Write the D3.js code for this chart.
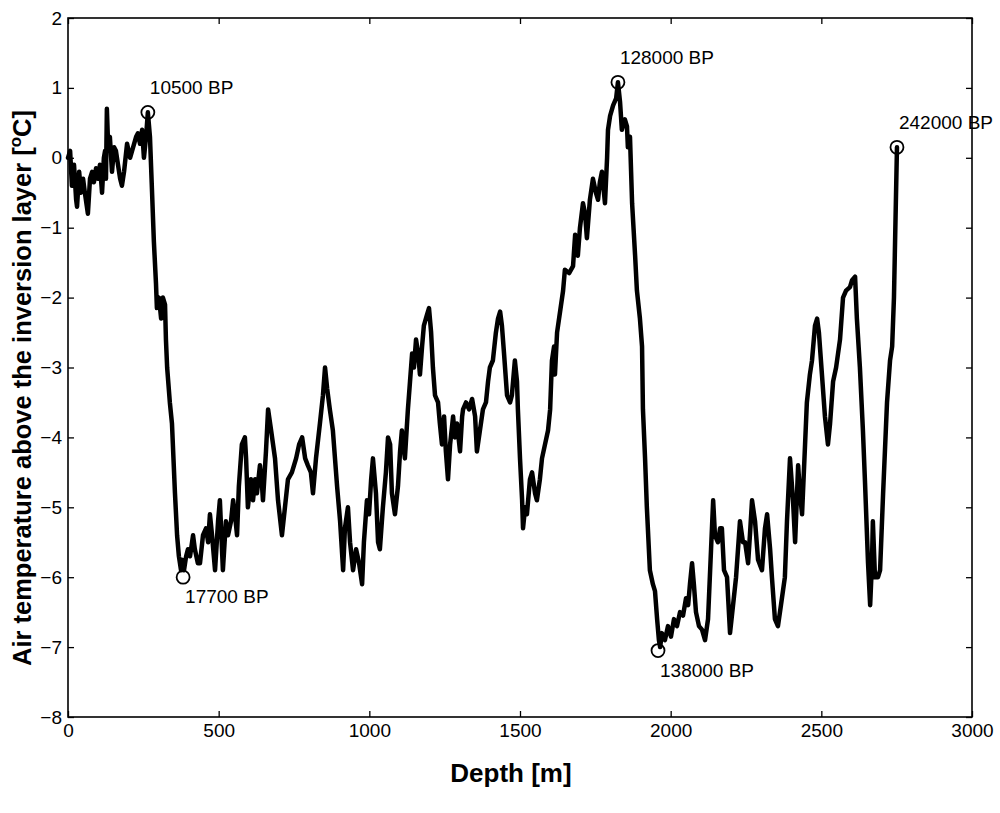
<!DOCTYPE html>
<html>
<head>
<meta charset="utf-8">
<script src="https://cdn.jsdelivr.net/npm/d3@7"></script>
<style>
  body { margin: 0; background: #fff; }
  svg { display: block; font-family: "Liberation Sans", Arial, Helvetica, sans-serif; }
</style>
</head>
<body>
<svg id="chart" width="1000" height="813"></svg>
<script>
// Depth [m]
const depth = [0,7,13,20,27,30,37,43,50,56,66,73,80,86,93,100,106,113,119,123,126,129,133,139,146,153,159,166,173,179,186,196,206,216,226,232,239,246,252,259,265,
272,279,285,292,295,302,309,315,322,325,329,338,345,355,362,368,375,378,385,392,398,405,415,421,431,438,448,458,465,471,478,488,498,504,511,514,524,531,541,548,554,561,567,577,587,591,597,607,614,621,627,637,644,647,657,664,674,687,697,710,720,730,743,757,767,777,787,796,806,813,823,836,846,853,860,869,879,893,903,913,919,929,936,946,956,966,976,982,992,999,1006,1012,1022,1029,1035,1045,1055,1062,1069,1075,1085,1095,1102,1108,1118,1128,1135,1142,1148,1155,1162,1168,1175,1181,1191,1198,1205,1211,1218,1228,1234,1241,1248,1254,1261,1268,1278,1284,1291,1301,1308,1311,1321,1331,1341,1351,1357,1367,1377,1387,1394,1400,1410,1420,1427,1434,1440,1447,1457,1467,1473,1483,1490,1493,1500,1507,1510,1517,1523,1533,1540,1550,1556,1566,1573,1583,1593,1600,1606,1613,1616,1623,1633,1643,1649,1663,1676,1683,1689,1692,1699,1709,1716,1722,1732,1742,1752,1759,1765,1772,1782,1789,1792,1799,1809,1819,1825,1832,1838,1848,1855,1858,1865,1872,1882,1888,1898,1905,1908,1915,1921,1931,1941,1948,1955,1961,1965,1971,1981,1991,2001,2011,2021,2031,2041,2051,2058,2064,2071,2077,2084,2094,2104,2114,2124,2134,2141,2147,2157,2164,2170,2177,2187,2197,2207,2217,2230,2240,2247,2257,2263,2270,2280,2290,2303,2313,2320,2330,2336,2346,2356,2366,2379,2386,2396,2406,2413,2423,2429,2436,2446,2452,2462,2469,2479,2486,2492,2502,2512,2522,2529,2539,2549,2562,2572,2582,2595,2602,2612,2618,2628,2638,2645,2655,2662,2668,2671,2678,2688,2695,2705,2718,2728,2735,2741,2751];

// Air temperature above the inversion layer [°C]
const temperature = [0.0,0.1,-0.4,-0.1,-0.6,-0.7,-0.2,-0.5,-0.3,-0.5,-0.8,-0.3,-0.2,-0.35,-0.15,-0.3,-0.1,-0.5,0.0,0.1,-0.3,0.7,0.2,0.3,-0.2,0.15,0.1,-0.1,-0.3,-0.4,-0.2,0.2,0.0,0.15,0.3,0.35,0.2,0.4,0.0,0.3,0.65,
0.3,-0.5,-1.2,-1.8,-2.15,-2.0,-2.3,-2.0,-2.1,-2.6,-3.0,-3.5,-3.8,-4.8,-5.4,-5.7,-5.9,-5.75,-5.9,-5.7,-5.6,-5.7,-5.4,-5.6,-5.8,-5.8,-5.4,-5.3,-5.5,-5.1,-5.4,-5.9,-5.2,-4.9,-5.6,-5.9,-5.2,-5.4,-5.2,-4.9,-5.1,-5.4,-4.7,-4.1,-4.0,-4.3,-5.0,-4.6,-4.9,-4.6,-4.8,-4.4,-4.7,-4.9,-4.2,-3.6,-3.9,-4.3,-4.9,-5.4,-5.0,-4.6,-4.5,-4.3,-4.1,-4.0,-4.3,-4.4,-4.5,-4.8,-4.3,-3.8,-3.4,-3.0,-3.3,-3.6,-3.9,-4.7,-5.2,-5.9,-5.3,-5.0,-5.5,-5.9,-5.6,-5.8,-6.1,-5.5,-4.9,-5.1,-4.6,-4.3,-4.8,-5.5,-5.6,-5.0,-4.5,-4.0,-4.1,-4.8,-5.1,-4.7,-4.2,-3.9,-4.3,-3.6,-3.2,-2.8,-3.0,-2.6,-2.8,-3.1,-2.7,-2.4,-2.25,-2.15,-2.5,-3.0,-3.4,-3.5,-3.8,-4.1,-3.7,-4.2,-4.6,-4.1,-3.7,-4.0,-3.8,-4.2,-3.7,-3.6,-3.5,-3.6,-3.45,-3.7,-4.2,-3.9,-3.6,-3.5,-3.2,-3.0,-2.9,-2.5,-2.3,-2.2,-2.4,-2.8,-3.4,-3.5,-3.4,-2.9,-3.2,-3.6,-4.3,-4.9,-5.3,-5.0,-5.1,-4.6,-4.5,-4.8,-4.9,-4.6,-4.3,-4.1,-3.9,-3.6,-2.9,-2.7,-3.1,-2.5,-2.2,-1.9,-1.6,-1.65,-1.55,-1.1,-1.3,-1.4,-1.0,-0.65,-0.8,-1.15,-0.6,-0.3,-0.5,-0.6,-0.35,-0.2,-0.65,0.0,0.4,0.6,0.75,0.85,1.08,0.8,0.4,0.55,0.45,0.15,0.3,-0.65,-1.4,-1.9,-2.3,-2.7,-3.6,-4.3,-5.0,-5.9,-6.1,-6.2,-6.6,-6.9,-7.0,-6.8,-6.9,-6.7,-6.85,-6.6,-6.7,-6.5,-6.55,-6.3,-6.4,-6.1,-5.8,-6.1,-6.5,-6.7,-6.75,-6.9,-6.6,-5.6,-4.9,-5.4,-5.5,-5.3,-5.3,-5.9,-6.0,-6.8,-6.4,-6.0,-5.2,-5.5,-5.5,-5.8,-5.4,-4.9,-5.2,-5.75,-5.9,-5.3,-5.1,-5.6,-6.0,-6.6,-6.7,-6.4,-6.0,-5.2,-4.3,-4.9,-5.5,-4.4,-4.8,-5.1,-4.1,-3.5,-3.1,-2.9,-2.4,-2.3,-2.5,-3.1,-3.7,-4.1,-3.8,-3.2,-3.0,-2.6,-2.0,-1.9,-1.85,-1.75,-1.7,-2.3,-3.0,-3.9,-4.65,-5.8,-6.4,-5.8,-5.2,-6.0,-6.0,-5.9,-4.8,-3.5,-2.9,-2.7,-2.0,0.15];

// Marked ages
const markerLabels = ["10500 BP", "17700 BP", "128000 BP", "138000 BP", "242000 BP"];
const markerDepth  = [265, 382, 1825, 1958, 2751];
const markerTemp   = [0.65, -6.0, 1.08, -7.05, 0.15];
const markerSide   = ["above", "below", "above", "below", "above"];

const xTicks = [0, 500, 1000, 1500, 2000, 2500, 3000];
const yTicks = [-8, -7, -6, -5, -4, -3, -2, -1, 0, 1, 2];

const xTitle = "Depth [m]";
const yTitleMain = "Air temperature above the inversion layer [";
const yTitleSup = "o";
const yTitleEnd = "C]";

const svg = d3.select("#chart");
const margin = {top: 18, right: 28, bottom: 96, left: 68};
const W = 1000, H = 813;
const iw = W - margin.left - margin.right;
const ih = H - margin.top - margin.bottom;

const x = d3.scaleLinear().domain([0, 3000]).range([margin.left, margin.left + iw]);
const y = d3.scaleLinear().domain([-8, 2]).range([margin.top + ih, margin.top]);

const tickFmt = d3.format("");
const tickLen = 6;

// Axes (ticks inside)
const gB = svg.append("g").attr("transform", `translate(0,${margin.top + ih})`)
  .call(d3.axisBottom(x).tickValues(xTicks).tickFormat(tickFmt).tickSizeInner(-tickLen).tickSizeOuter(0).tickPadding(7));
const gT = svg.append("g").attr("transform", `translate(0,${margin.top})`)
  .call(d3.axisTop(x).tickValues(xTicks).tickFormat("").tickSizeInner(-tickLen).tickSizeOuter(0));
const gL = svg.append("g").attr("transform", `translate(${margin.left},0)`)
  .call(d3.axisLeft(y).tickValues(yTicks).tickFormat(d3.format("d")).tickSizeInner(-tickLen).tickSizeOuter(0).tickPadding(6));
const gR = svg.append("g").attr("transform", `translate(${margin.left + iw},0)`)
  .call(d3.axisRight(y).tickValues(yTicks).tickFormat("").tickSizeInner(-tickLen).tickSizeOuter(0));

[gB, gT, gL, gR].forEach(g => {
  g.select(".domain").remove();
  g.selectAll(".tick line").attr("stroke", "#000").attr("stroke-width", 1.3);
  g.selectAll(".tick text").attr("fill", "#000").style("font-size", "19px")
    .style("font-family", '"Liberation Sans", Arial, sans-serif');
});

// Frame
svg.append("rect")
  .attr("x", margin.left).attr("y", margin.top)
  .attr("width", iw).attr("height", ih)
  .attr("fill", "none").attr("stroke", "#000").attr("stroke-width", 1.6);

// Data line
const pts = depth.map((d, i) => [d, temperature[i]]);
const line = d3.line().x(d => x(d[0])).y(d => y(d[1])).curve(d3.curveLinear);
svg.append("path")
  .datum(pts)
  .attr("d", line)
  .attr("fill", "none")
  .attr("stroke", "#000")
  .attr("stroke-width", 4.5)
  .attr("stroke-linejoin", "round")
  .attr("stroke-linecap", "round");

// Markers
const mk = svg.append("g");
markerDepth.forEach((d, i) => {
  mk.append("circle")
    .attr("cx", x(d)).attr("cy", y(markerTemp[i]))
    .attr("r", 6.5)
    .attr("fill", "none").attr("stroke", "#000").attr("stroke-width", 1.8);
  const above = markerSide[i] === "above";
  mk.append("text")
    .attr("x", x(d) + 2)
    .attr("y", y(markerTemp[i]) + (above ? -18 : 26))
    .attr("text-anchor", "start")
    .style("font-size", "19px")
    .attr("fill", "#000")
    .text(markerLabels[i]);
});

// Axis titles
svg.append("text")
  .attr("x", 511)
  .attr("y", 782)
  .attr("text-anchor", "middle")
  .style("font-size", "26px")
  .style("font-weight", "bold")
  .attr("fill", "#000")
  .text(xTitle);

const yt = svg.append("text")
  .attr("transform", `translate(31,388) rotate(-90)`)
  .attr("text-anchor", "middle")
  .style("font-size", "25.5px")
  .style("font-weight", "bold")
  .attr("fill", "#000");
yt.append("tspan").text(yTitleMain);
yt.append("tspan").attr("dy", -10).style("font-size", "17px").text(yTitleSup);
yt.append("tspan").attr("dy", 10).text(yTitleEnd);
</script>
</body>
</html>
